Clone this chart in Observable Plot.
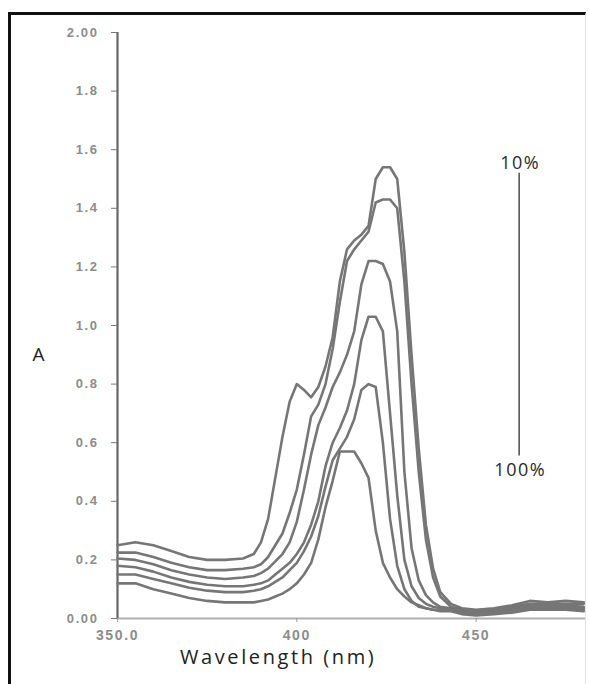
<!DOCTYPE html>
<html>
<head>
<meta charset="utf-8">
<script src="https://cdn.jsdelivr.net/npm/d3@7"></script>
<script src="https://cdn.jsdelivr.net/npm/@observablehq/plot@0.6"></script>
<style>
  html, body { margin: 0; padding: 0; background: #fff; }
  #wrap { position: relative; width: 589px; height: 684px; overflow: hidden; }
  #border { position: absolute; left: 8px; top: 12px; right: 3px; bottom: -10px;
            border-left: 3px solid #111; border-top: 3px solid #111; border-right: 1px solid #e2e2e2;
            pointer-events: none; }
  g[aria-label="y-axis tick label"] text, g[aria-label="x-axis tick label"] text { letter-spacing: 1.6px; }
  .wide text { letter-spacing: 2.6px; }
  .wide2 text { letter-spacing: 1.5px; }
</style>
</head>
<body>
<div id="wrap"><div id="border"></div></div>
<script>
// Wavelength grid (nm)
const wavelengths = [350,355,360,365,370,375,380,385,388,390,392,394,396,398,400,402,404,406,408,410,412,414,416,418,420,422,424,426,428,430,432,434,436,438,440,443,446,450,455,460,465,470,475,480];

// Absorbance of the six spectra, highest to lowest
const curve1 = [0.25,0.26,0.25,0.23,0.21,0.20,0.20,0.205,0.22,0.26,0.34,0.48,0.62,0.74,0.80,0.78,0.755,0.79,0.86,0.96,1.15,1.26,1.29,1.31,1.34,1.50,1.54,1.54,1.50,1.25,0.90,0.58,0.32,0.17,0.09,0.05,0.035,0.03,0.035,0.045,0.06,0.055,0.06,0.055];
const curve2 = [0.225,0.225,0.21,0.19,0.175,0.165,0.165,0.17,0.175,0.185,0.21,0.25,0.29,0.36,0.44,0.56,0.69,0.73,0.80,0.92,1.08,1.22,1.26,1.29,1.32,1.42,1.43,1.43,1.40,1.15,0.80,0.50,0.27,0.14,0.075,0.04,0.03,0.025,0.03,0.04,0.05,0.05,0.05,0.05];
const curve3 = [0.205,0.20,0.185,0.165,0.15,0.14,0.135,0.14,0.145,0.155,0.17,0.195,0.22,0.26,0.33,0.44,0.56,0.66,0.72,0.79,0.84,0.90,0.98,1.14,1.22,1.22,1.21,1.15,0.98,0.50,0.24,0.13,0.08,0.055,0.04,0.035,0.025,0.02,0.025,0.035,0.045,0.045,0.045,0.04];
const curve4 = [0.18,0.175,0.16,0.14,0.125,0.115,0.11,0.11,0.115,0.12,0.13,0.15,0.17,0.19,0.22,0.26,0.32,0.40,0.52,0.60,0.65,0.71,0.80,0.95,1.03,1.03,0.98,0.70,0.42,0.20,0.11,0.07,0.05,0.04,0.035,0.03,0.02,0.015,0.02,0.03,0.04,0.04,0.04,0.035];
const curve5 = [0.15,0.15,0.135,0.12,0.105,0.095,0.09,0.09,0.095,0.10,0.11,0.125,0.14,0.165,0.19,0.23,0.28,0.35,0.45,0.54,0.58,0.62,0.68,0.78,0.80,0.79,0.60,0.34,0.18,0.10,0.06,0.04,0.035,0.03,0.03,0.03,0.02,0.015,0.02,0.025,0.035,0.035,0.035,0.03];
const curve6 = [0.12,0.12,0.10,0.085,0.07,0.06,0.055,0.055,0.055,0.06,0.065,0.075,0.085,0.10,0.12,0.15,0.19,0.27,0.38,0.47,0.57,0.57,0.57,0.53,0.48,0.30,0.19,0.14,0.10,0.075,0.055,0.045,0.035,0.03,0.025,0.025,0.015,0.01,0.015,0.02,0.03,0.03,0.03,0.025];
const seriesNames = ["curve1","curve2","curve3","curve4","curve5","curve6"];

// Axis ticks
const xTicks = [350, 400, 450];
const xTickLabels = ["350.0", "400", "450"];
const yTicks = [0, 0.2, 0.4, 0.6, 0.8, 1.0, 1.2, 1.4, 1.6, 1.8, 2.0];
const yTickLabels = ["0.00","0.2","0.4","0.6","0.8","1.0","1.2","1.4","1.6","1.8","2.00"];

// Concentration annotation (data space: wavelength, absorbance)
const gradientBar = [{wavelength: 462, top: 1.52, bottom: 0.555}];
const gradientLabels = [
  {label: "10%", wavelength: 462.3, absorbance: 1.555},
  {label: "100%", wavelength: 462.3, absorbance: 0.505}
];
const axisTitles = [{label: "Wavelength (nm)", wavelength: 394.8}];
const yTitle = [{label: "A", absorbance: 0.9}];

const allCurves = [curve1, curve2, curve3, curve4, curve5, curve6];
const data = [];
allCurves.forEach((vals, i) => {
  vals.forEach((v, j) => data.push({series: seriesNames[i], wavelength: wavelengths[j], absorbance: v}));
});

const chart = Plot.plot({
  width: 589,
  height: 684,
  marginLeft: 117,
  marginRight: 4,
  marginTop: 32,
  marginBottom: 66,
  style: {background: "transparent", fontFamily: "Liberation Sans, Arial, sans-serif"},
  x: {domain: [350, 480.5], label: null},
  y: {domain: [0, 2], label: null},
  marks: [
    Plot.ruleY([0], {stroke: "#b0b0b0", strokeWidth: 2}),
    Plot.ruleX([350], {stroke: "#666", strokeWidth: 2.2}),
    Plot.axisY({ticks: yTicks, tickFormat: d => yTickLabels[yTicks.indexOf(d)], tickSize: 6, tickPadding: 13,
                fontSize: 13, fontWeight: "bold", fill: "#8c8c8c", stroke: "#777", label: null}),
    Plot.axisX({ticks: xTicks, tickFormat: d => xTickLabels[xTicks.indexOf(d)], tickSize: 4, tickPadding: 8,
                fontSize: 14, fontWeight: "bold", fill: "#8c8c8c", stroke: "#999", label: null}),
    Plot.line(data, {x: "wavelength", y: "absorbance", z: "series", stroke: "#767676",
                     strokeWidth: 2.6, strokeLinejoin: "round", curve: "linear"}),
    Plot.ruleX(gradientBar, {x: "wavelength", y1: "bottom", y2: "top", stroke: "#555", strokeWidth: 1.6}),
    Plot.text(gradientLabels, {x: "wavelength", y: "absorbance", text: "label", fontSize: 18,
                               fill: "#2a2a2a", fontFamily: "Open Sans, sans-serif", className: "wide2"}),
    Plot.text(axisTitles, {x: "wavelength", frameAnchor: "bottom", dy: 45, text: "label", fontSize: 20,
                           fill: "#222", fontFamily: "Open Sans, sans-serif", className: "wide"}),
    Plot.text(yTitle, {y: "absorbance", frameAnchor: "left", dx: -85, text: "label", fontSize: 19,
                       fill: "#222", fontFamily: "Open Sans, sans-serif"})
  ]
});
document.getElementById("wrap").prepend(chart);
</script>
</body>
</html>
